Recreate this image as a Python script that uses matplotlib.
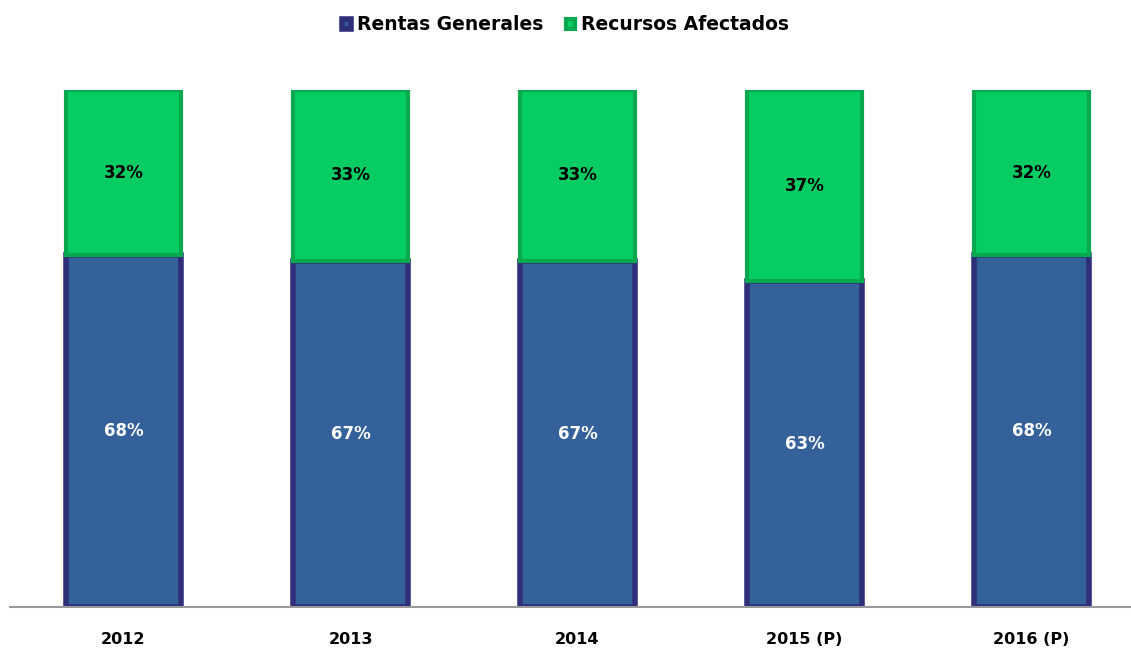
import matplotlib.pyplot as plt
import numpy as np

# datos
anios = ["2012", "2013", "2014", "2015 (P)", "2016 (P)"]
rentas_generales = [68, 67, 67, 63, 68]
recursos_afectados = [32, 33, 33, 37, 32]

color_rentas = "#34619A"
color_recursos = "#05CC63"

fig = plt.figure(figsize=(11.31, 6.5), dpi=100)
# ejes en pixeles: izquierda 10, base 607, tope 90
ax = fig.add_axes([10 / 1131, 43 / 650, 1121 / 1131, 517 / 650])

x = np.arange(len(anios))
ancho = 0.507

b1 = ax.bar(x, rentas_generales, ancho, color=color_rentas,
            edgecolor="#2F2E78", linewidth=4, label="Rentas Generales")
b2 = ax.bar(x, recursos_afectados, ancho, bottom=rentas_generales,
            color=color_recursos, edgecolor="#08A84F", linewidth=3,
            label="Recursos Afectados")

# etiquetas de porcentaje
for i in range(len(anios)):
    ax.text(x[i], rentas_generales[i] / 2, f"{rentas_generales[i]}%",
            ha="center", va="center", color="white", fontsize=12, fontweight="bold")
    ax.text(x[i], rentas_generales[i] + recursos_afectados[i] / 2,
            f"{recursos_afectados[i]}%", ha="center", va="center",
            color="black", fontsize=12, fontweight="bold")

ax.set_xlim(-0.5, 1121 / 227 - 0.5)
ax.set_ylim(0, 100)
ax.set_xticks(x)
ax.set_xticklabels(anios, fontsize=11.5, fontweight="bold")
ax.tick_params(axis="x", length=0, pad=18)
ax.set_yticks([])
for s in ["top", "right", "left"]:
    ax.spines[s].set_visible(False)
ax.spines["bottom"].set_color("#999999")
ax.spines["bottom"].set_linewidth(1.5)

fig.legend(handles=[b1, b2], loc="center", bbox_to_anchor=(0.5, 1 - 25 / 650),
           ncol=2, frameon=False, prop={"weight": "bold", "size": 13.5},
           handlelength=0.5, handleheight=0.5, handletextpad=0.3, columnspacing=1.2)

fig.savefig("out.png", dpi=100)
